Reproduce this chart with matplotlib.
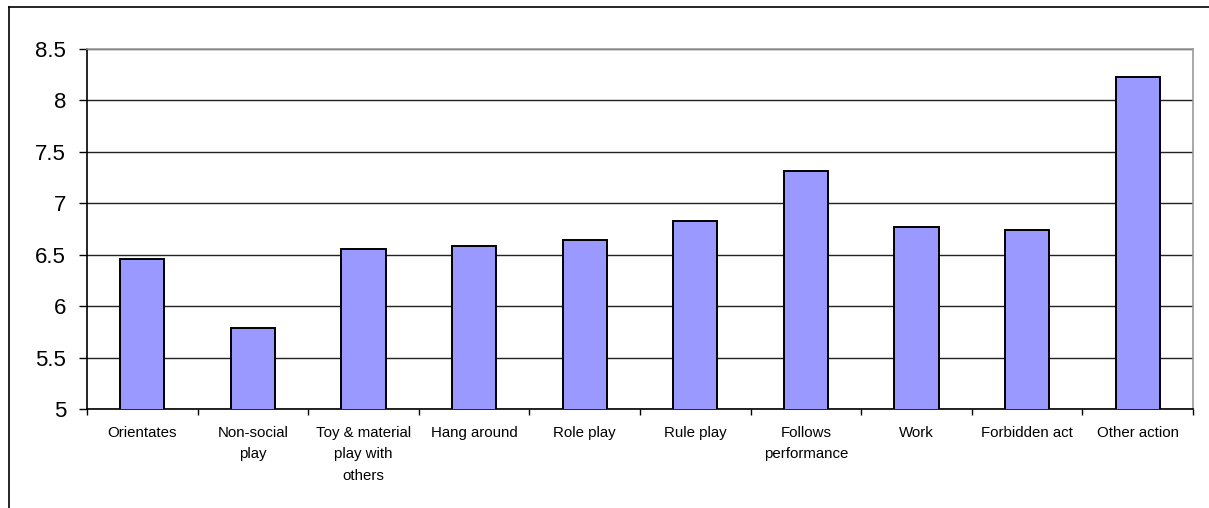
import matplotlib.pyplot as plt
from matplotlib.lines import Line2D
import numpy as np

# categories and mean values
categories = ['Orientates', 'Non-social\nplay', 'Toy & material\nplay with\nothers',
              'Hang around', 'Role play', 'Rule play', 'Follows\nperformance',
              'Work', 'Forbidden act', 'Other action']
values = [6.46, 5.79, 6.56, 6.58, 6.64, 6.83, 7.31, 6.77, 6.74, 8.23]
y_ticks = [5, 5.5, 6, 6.5, 7, 7.5, 8, 8.5]
y_labels = ['5', '5.5', '6', '6.5', '7', '7.5', '8', '8.5']

plt.rcParams['font.family'] = ['Liberation Sans', 'DejaVu Sans']

W, H = 1209, 508
fig = plt.figure(figsize=(W / 100, H / 100), dpi=100)
ax = fig.add_axes([87 / W, 1 - 409 / H, (1193 - 87) / W, (409 - 49) / H])

x = np.arange(len(categories))
ax.bar(x, values, width=0.4, bottom=0, color='#9999ff', edgecolor='black',
       linewidth=1.4, zorder=3)

ax.set_xlim(-0.5, len(categories) - 0.5)
ax.set_ylim(5, 8.5)
ax.set_yticks(y_ticks)
ax.set_yticklabels(y_labels, fontsize=16)
ax.tick_params(axis='y', direction='out', length=6, width=1, pad=9)

# labels at centres, tick marks at category boundaries
ax.set_xticks(x)
ax.set_xticklabels(categories, fontsize=10.8, linespacing=1.7, va='top')
ax.tick_params(axis='x', which='major', length=0, pad=12)
ax.set_xticks(np.arange(len(categories) + 1) - 0.5, minor=True)
ax.tick_params(axis='x', which='minor', direction='out', length=4, width=1)

# horizontal gridlines
ax.yaxis.grid(True, color='#222222', linewidth=1, zorder=0)
ax.set_axisbelow(True)

ax.spines['left'].set_color('black')
ax.spines['bottom'].set_color('black')
ax.spines['top'].set_color('#999999')
ax.spines['right'].set_color('#999999')
for s in ax.spines.values():
    s.set_linewidth(1.2)

# chart frame (only top and left edges visible)
fig.add_artist(Line2D([9 / W, 1], [1 - 7 / H, 1 - 7 / H], color='black', linewidth=1.2))
fig.add_artist(Line2D([9 / W, 9 / W], [0, 1 - 7 / H], color='black', linewidth=1.2))

plt.savefig('out.png', dpi=100)
